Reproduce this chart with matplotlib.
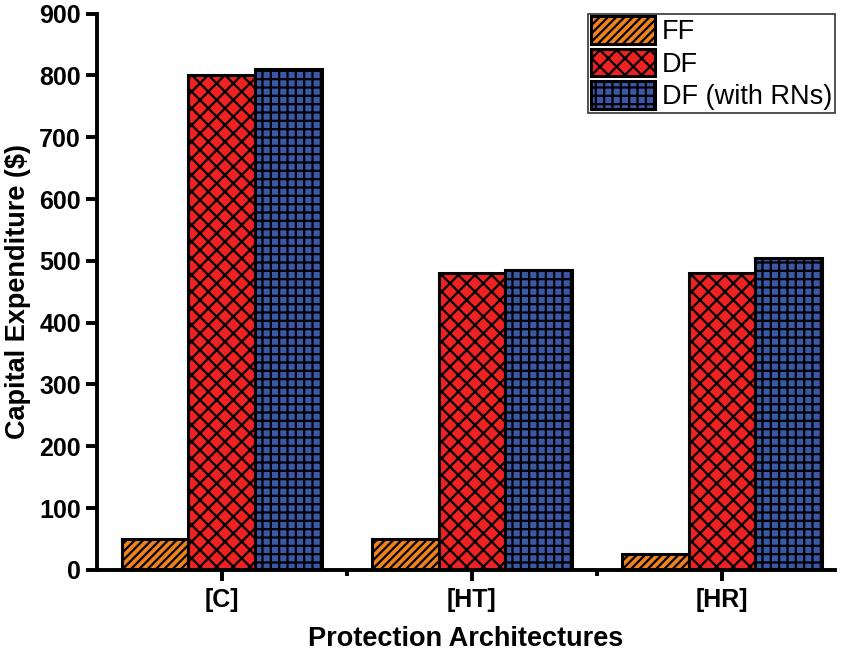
import matplotlib
matplotlib.use("Agg")
import matplotlib.pyplot as plt
import numpy as np

plt.rcParams['font.family'] = ['Liberation Sans', 'DejaVu Sans']
plt.rcParams['hatch.linewidth'] = 1.6

# data
architectures = ["[C]", "[HT]", "[HR]"]
series_names = ["FF", "DF", "DF (with RNs)"]
ff_cost = [50, 50, 25]
df_cost = [800, 480, 480]
df_rn_cost = [810, 485, 505]

colors = ["#f0821e", "#ee2222", "#3b57a8"]
hatches = ["////", "xx", "++"]

fig = plt.figure(figsize=(8.49, 6.52), dpi=100)
ax = fig.add_axes([0.114, 0.126, 0.869, 0.853])

x = np.arange(len(architectures))
w = 0.267
for i, vals in enumerate([ff_cost, df_cost, df_rn_cost]):
    ax.bar(x + (i - 1) * w, vals, w, color=colors[i], edgecolor="black",
           hatch=hatches[i], linewidth=2.2, label=series_names[i])

ax.set_xlim(-0.5, 2.45)
ax.set_ylim(0, 900)
ax.set_yticks(range(0, 901, 100))
ax.set_xticks(x)
ax.set_xticks([0.5, 1.5], minor=True)
ax.set_xticklabels(architectures)

for s in ["top", "right"]:
    ax.spines[s].set_visible(False)
for s in ["left", "bottom"]:
    ax.spines[s].set_linewidth(2.8)

ax.tick_params(axis="both", direction="out", length=8, width=2.8, labelsize=18)
ax.tick_params(axis="x", which="major", pad=5)
ax.tick_params(axis="x", which="minor", direction="out", length=4, width=2.8)
for lab in ax.get_xticklabels() + ax.get_yticklabels():
    lab.set_fontweight("bold")

ax.set_xlabel("Protection Architectures", fontsize=19.5, fontweight="bold", labelpad=10)
ax.set_ylabel("Capital Expenditure ($)", fontsize=19.5, fontweight="bold", labelpad=6)

leg = ax.legend(loc="upper right", fontsize=19.5, frameon=True, fancybox=False,
                edgecolor="black", handlelength=2.35, handleheight=1.2,
                labelspacing=0.12, borderpad=0.1, handletextpad=0.25,
                borderaxespad=0.0)
leg.get_frame().set_linewidth(1.2)

fig.savefig("out.png", dpi=100)
